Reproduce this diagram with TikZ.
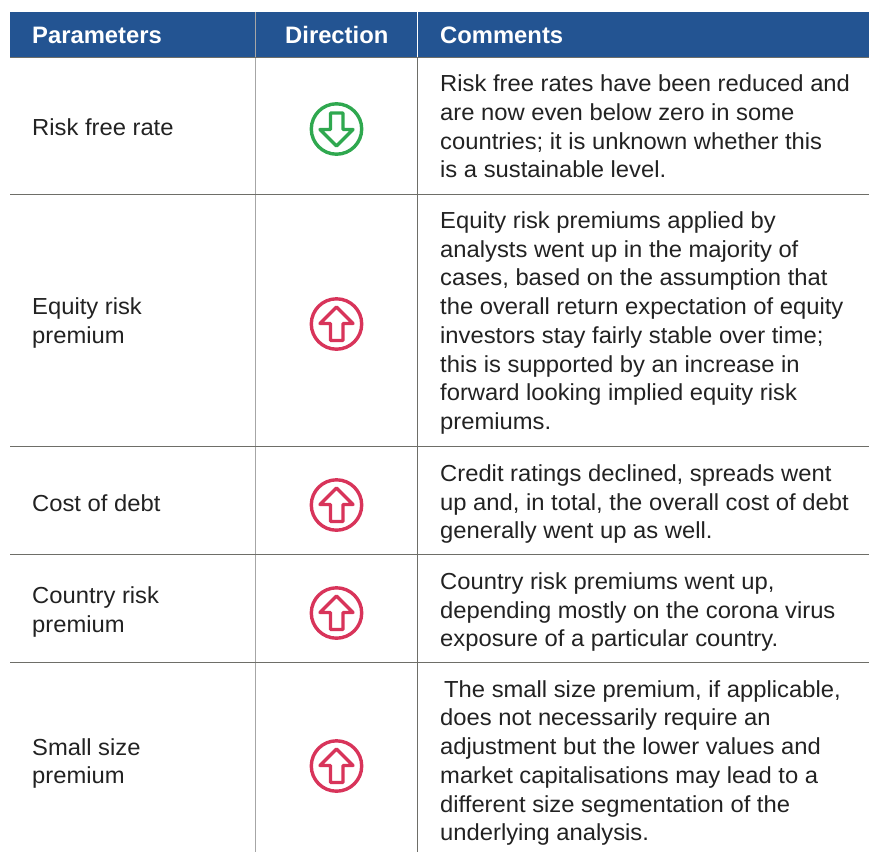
\documentclass[tikz,border=0pt]{standalone}
\usepackage{fontspec}
\setmainfont{Liberation Sans}
\newfontfamily\widebody[FakeStretch=1.025]{Liberation Sans}
\definecolor{headblue}{HTML}{235492}
\definecolor{rulegray}{HTML}{6E6E68}
\definecolor{softgray}{HTML}{A6A6A6}
\definecolor{upred}{HTML}{D8345A}
\definecolor{downgreen}{HTML}{2FA84F}
\definecolor{bodyink}{HTML}{222222}
\tikzset{
  celltext/.style={anchor=west,align=left,inner sep=0pt,text=bodyink,font=\widebody\fontsize{23.2}{28.7}\selectfont},
  headtext/.style={anchor=base west,inner sep=0pt,text=white,font=\fontsize{23.8}{28}\selectfont\bfseries},
  rowrule/.style={draw=rulegray,line width=1pt},
  iconline/.style={line width=3.4pt,line join=round,fill=none},
  upicon/.pic={
    \draw[iconline,upred] (0,0) circle (25.2);
    \draw[iconline,upred] (0,-17) -- (16.5,-0.5) -- (6.5,-0.5) -- (6.5,16.5) -- (-6,16.5) -- (-6,-0.5) -- (-16.5,-0.5) -- cycle;
  },
  downicon/.pic={
    \draw[iconline,downgreen] (0,0) circle (25.2);
    \draw[iconline,downgreen] (0,17) -- (16.5,0.5) -- (6.5,0.5) -- (6.5,-16) -- (-6,-16) -- (-6,0.5) -- (-16.5,0.5) -- cycle;
  }
}
\begin{document}
\begin{tikzpicture}[x=1pt,y=-1pt]
\useasboundingbox (0,0) rectangle (869,852);
\fill[headblue] (10,12) rectangle (869,57.5);
\draw[softgray,line width=1.1pt] (255.5,12) -- (255.5,852);
\draw[rulegray,line width=1.1pt] (417.5,57) -- (417.5,852);
\draw[white,line width=1.1pt] (417.5,12) -- (417.5,57);
\foreach \yy in {194.5,446.5,554.5,662.5}{\draw[rowrule] (10,\yy) -- (869,\yy);}
\draw[rulegray,line width=0.8pt] (10,57.7) -- (869,57.7);

\node[headtext] (h1) at (32,43) {Parameters};
\node[headtext] (h2) at (285,43) {Direction};
\node[headtext] (h3) at (440,43) {Comments};

\node[celltext] (p1) at (32,127) {Risk free rate};
\node[celltext] (p2) at (32,323) {Equity risk\\premium};
\node[celltext] (p3) at (32,503) {Cost of debt};
\node[celltext] (p4) at (32,612) {Country risk\\premium};
\node[celltext] (p5) at (32,763.5) {Small size\\premium};

\pic at (336.5,129) {downicon};
\pic at (336.5,324) {upicon};
\pic at (336.5,505) {upicon};
\pic at (336.5,613) {upicon};
\pic at (336.5,766) {upicon};

\node[celltext] (c1) at (440,126.5) {Risk free rates have been reduced and\\are now even below zero in some\\countries; it is unknown whether this\\is a sustainable level.};
\node[celltext] (c2) at (440,323) {Equity risk premiums applied by\\analysts went up in the majority of\\cases, based on the assumption that\\the overall return expectation of equity\\investors stay fairly stable over time;\\this is supported by an increase in\\forward looking implied equity risk\\premiums.};
\node[celltext] (c3) at (440,504) {Credit ratings declined, spreads went\\up and, in total, the overall cost of debt\\generally went up as well.};
\node[celltext] (c4) at (440,612) {Country risk premiums went up,\\depending mostly on the corona virus\\exposure of a particular country.};
\node[celltext] (c5) at (440,763) {\hspace{4pt}The small size premium, if applicable,\\does not necessarily require an\\adjustment but the lower values and\\market capitalisations may lead to a\\different size segmentation of the\\underlying analysis.};
\end{tikzpicture}
\end{document}
